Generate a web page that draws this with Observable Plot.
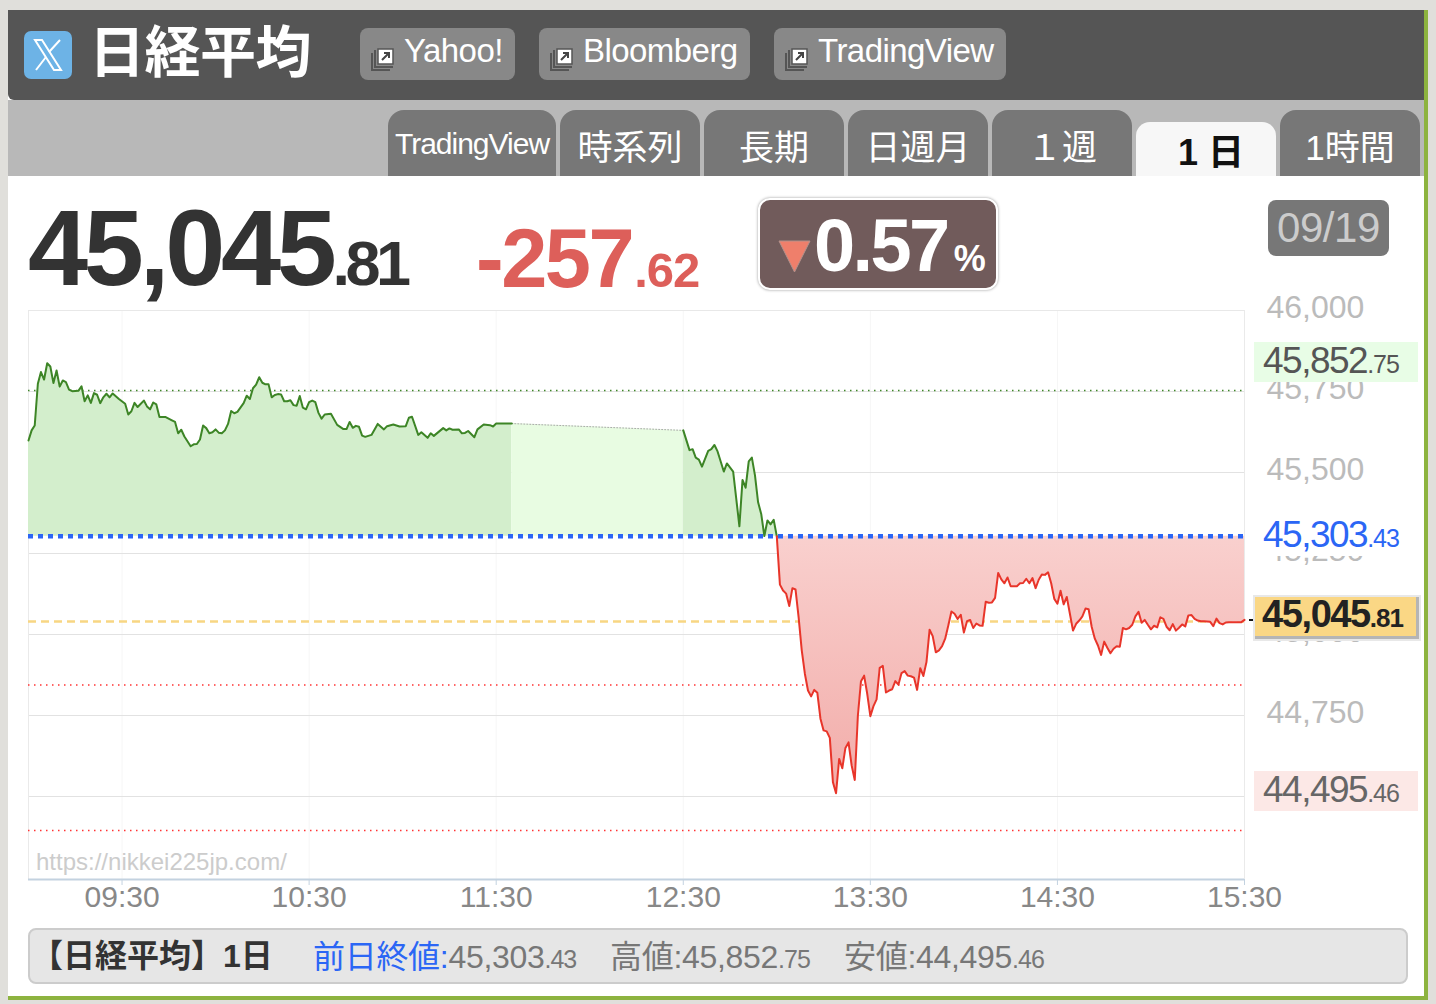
<!DOCTYPE html>
<html lang="ja">
<head>
<meta charset="utf-8">
<title>日経平均 1日</title>
<script src="https://cdn.jsdelivr.net/npm/d3@7"></script>
<script src="https://cdn.jsdelivr.net/npm/@observablehq/plot@0.6"></script>
<style>
html,body{margin:0;padding:0;width:1436px;height:1004px;overflow:hidden;background:#e0dfdb;font-family:"Liberation Sans","Noto Sans CJK JP",sans-serif;}
.a{position:absolute;white-space:nowrap;}
.c{display:flex;align-items:center;justify-content:center;}
.btn{background:#888;border-radius:8px;top:28px;height:52px;color:#fff;font-size:33px;letter-spacing:-.55px;}
.btn span{position:absolute;top:3px;line-height:40px;}
.btn svg{position:absolute;left:10px;top:18px;}
.tab{background:#777;border-radius:16px 16px 0 0;top:110px;height:66px;width:140px;color:#fff;font-size:35px;padding-top:2px;box-sizing:border-box;}
.lab{left:1254px;width:164px;height:40px;line-height:38px;font-size:37px;letter-spacing:-1.5px;}
.lab span{position:absolute;left:9px;}
small{font-size:25px;letter-spacing:-1px;}
#chart{position:absolute;left:0;top:280px;}
</style>
</head>
<body>
<div class="a" style="left:8px;top:10px;width:1416px;height:986px;background:#fff;"></div>
<div class="a" style="left:1424px;top:10px;width:4px;height:990px;background:#8db33f;"></div>
<div class="a" style="left:8px;top:996px;width:1420px;height:4px;background:#8db33f;"></div>
<div class="a" style="left:8px;top:10px;width:1416px;height:90px;background:#555;border-radius:0 0 0 6px;"></div>
<div class="a" style="left:8px;top:100px;width:1416px;height:76px;background:#b8b8b8;"></div>

<div class="a c" style="left:24px;top:31px;width:48px;height:48px;background:#6db3e6;border-radius:7px;">
<svg width="30" height="32" viewBox="0 0 30 32"><path d="M2 1 L9 1 L28 31 L21 31 Z" fill="none" stroke="#fff" stroke-width="2"/><path d="M27 1 L16 13 M13 18 L3 31" stroke="#fff" stroke-width="2"/></svg></div>
<div class="a" style="left:89px;top:10px;height:76px;line-height:76px;font-size:56px;font-weight:700;color:#fff;font-family:'Noto Sans CJK JP';letter-spacing:-.5px;">日経平均</div>

<div class="a btn" style="left:360px;width:155px;"><svg width="26" height="26" viewBox="0 0 26 26"><path d="M2 7V24H20" fill="none" stroke="#555" stroke-width="2"/><path d="M5 4V21H23" fill="none" stroke="#555" stroke-width="2"/><rect x="8" y="3" width="15" height="15" fill="#fff" stroke="#555" stroke-width="1.5"/><path d="M12 14L19 7M14 7H19V12" fill="none" stroke="#444" stroke-width="2"/></svg><span style="left:44px;">Yahoo!</span></div>
<div class="a btn" style="left:539px;width:211px;"><svg width="26" height="26" viewBox="0 0 26 26"><path d="M2 7V24H20" fill="none" stroke="#555" stroke-width="2"/><path d="M5 4V21H23" fill="none" stroke="#555" stroke-width="2"/><rect x="8" y="3" width="15" height="15" fill="#fff" stroke="#555" stroke-width="1.5"/><path d="M12 14L19 7M14 7H19V12" fill="none" stroke="#444" stroke-width="2"/></svg><span style="left:44px;">Bloomberg</span></div>
<div class="a btn" style="left:774px;width:232px;"><svg width="26" height="26" viewBox="0 0 26 26"><path d="M2 7V24H20" fill="none" stroke="#555" stroke-width="2"/><path d="M5 4V21H23" fill="none" stroke="#555" stroke-width="2"/><rect x="8" y="3" width="15" height="15" fill="#fff" stroke="#555" stroke-width="1.5"/><path d="M12 14L19 7M14 7H19V12" fill="none" stroke="#444" stroke-width="2"/></svg><span style="left:44px;">TradingView</span></div>

<div class="a tab c" style="left:388px;width:168px;font-size:30px;letter-spacing:-1px;">TradingView</div>
<div class="a tab c" style="left:560px;">時系列</div>
<div class="a tab c" style="left:704px;">長期</div>
<div class="a tab c" style="left:848px;">日週月</div>
<div class="a tab c" style="left:992px;">１週</div>
<div class="a tab c" style="left:1136px;top:122px;height:54px;background:#f7f7f7;color:#111;font-weight:700;padding:0 0 0 10px;border-radius:14px 14px 0 0;font-size:36px;">1 日</div>
<div class="a tab c" style="left:1280px;">1時間</div>

<div class="a" style="left:28px;top:188px;height:120px;line-height:120px;font-size:108px;font-weight:700;color:#333;letter-spacing:-4.3px;">45,045<span style="font-size:63px;letter-spacing:-4.5px;">.81</span></div>
<div class="a" style="left:476px;top:204px;height:110px;line-height:110px;font-size:83px;font-weight:700;color:#dd5f5a;letter-spacing:-2.5px;">-257<span style="font-size:49px;letter-spacing:-1px;margin-left:2px;">.62</span></div>
<div class="a" style="left:758px;top:198px;width:240px;height:92px;box-sizing:border-box;background:#715b5b;border:2px solid #fff;border-radius:12px;box-shadow:0 0 3px #999;"></div>
<svg class="a" style="left:778px;top:240px;" width="33" height="33"><path d="M1 1H32L16.5 32Z" fill="#ef7f6b" stroke="#b3928c"/></svg>
<div class="a" style="left:814px;top:200px;height:92px;line-height:92px;font-size:74px;font-weight:700;color:#fff;letter-spacing:-2.6px;">0.57<span style="font-size:36px;letter-spacing:0;margin-left:6px;">%</span></div>
<div class="a c" style="left:1268px;top:200px;width:121px;height:56px;background:#777;border-radius:8px;color:#ccc;font-size:42px;letter-spacing:-.4px;">09/19</div>

<div id="chart"></div>

<div class="a" style="left:36px;top:848px;height:28px;line-height:28px;font-size:24px;color:#ccc;">https://nikkei225jp.com/</div>

<div class="a lab" style="top:342px;background:#e8fde6;color:#555;"><span>45,852<small>.75</small></span></div>
<div class="a lab" style="top:516px;background:#fff;color:#2b66f5;"><span>45,303<small>.43</small></span></div>
<div class="a lab" style="top:771px;background:#fce8e6;color:#666;"><span>44,495<small>.46</small></span></div>
<div class="a" style="left:1249px;top:619px;width:10px;height:2px;background:#111;"></div>
<div class="a" style="left:1253px;top:595px;width:168px;height:46px;box-sizing:border-box;background:#fad785;border:2px solid #e8e8e8;box-shadow:inset -3px -3px 0 #b5b5b5;"></div>
<div class="a" style="left:1262px;top:591px;height:46px;line-height:46px;font-size:38px;font-weight:700;color:#222;letter-spacing:-1.4px;">45,045<small style="font-size:26px;">.81</small></div>

<div class="a" style="left:28px;top:928px;width:1380px;height:56px;box-sizing:border-box;background:#e6e6e6;border:2px solid #ccc;border-radius:8px;"></div>
<div class="a" style="left:41px;top:928px;height:56px;line-height:56px;font-size:32px;font-weight:700;color:#333;"><span style="margin-left:-10px;">【日経平均】</span>1日</div>
<div class="a" style="left:313px;top:929px;height:56px;line-height:56px;font-size:32px;color:#777;letter-spacing:-.3px;"><span style="color:#2b66f5;">前日終値:</span>45,303<small>.43</small></div>
<div class="a" style="left:610px;top:929px;height:56px;line-height:56px;font-size:32px;color:#777;letter-spacing:-.3px;">高値:45,852<small>.75</small></div>
<div class="a" style="left:844px;top:929px;height:56px;line-height:56px;font-size:32px;color:#777;letter-spacing:-.3px;">安値:44,495<small>.46</small></div>

<script>
// Minutes after 09:00 and index price
const morningMinutes = [0,1,2,3,4,5,6,7,8,9,10,11,12,13,14,16,17,18,19,20,21,22,23,24,25,26,27,29,31,32,33,34,35,37,38,39,40,41,42,44,46,47,48,49,50,52,53,54,55,56,57,58,59,60,61,62,63,64,65,66,67,69,70,71,72,73,74,75,76,77,78,79,80,81,82,83,84,85,86,87,88,89,90,91,92,93,94,95,97,99,101,102,103,104,105,106,107,108,110,112,114,115,117,119,121,122,123,125,126,128,129,130,133,134,135,136,138,139,140,141,143,144,146,148,149,150,155];
const morningPrices = [45599,45630,45645,45774,45810,45787,45837,45827,45776,45815,45765,45784,45779,45756,45751,45752,45766,45720,45738,45715,45745,45740,45714,45732,45743,45732,45744,45727,45712,45679,45689,45715,45702,45722,45704,45695,45716,45710,45671,45671,45661,45656,45621,45632,45611,45581,45587,45588,45602,45645,45637,45621,45624,45633,45623,45621,45630,45650,45690,45683,45687,45714,45737,45727,45760,45771,45794,45777,45772,45772,45732,45739,45742,45741,45720,45720,45723,45708,45706,45736,45700,45695,45717,45722,45717,45684,45666,45679,45681,45647,45634,45634,45656,45638,45644,45641,45614,45610,45616,45650,45633,45643,45648,45642,45643,45669,45672,45616,45624,45607,45621,45613,45637,45630,45636,45632,45633,45621,45622,45628,45609,45633,45648,45646,45642,45651,45651];
const afternoonMinutes = [210,212,213,214,215,216,218,219,220,221,223,224,226,228,229,230,231,232,233,234,235,236,237,238,239,240];
const afternoonPrices = [45630,45569,45572,45546,45540,45518,45567,45572,45585,45565,45503,45528,45503,45334,45477,45453,45534,45546,45491,45408,45372,45304,45352,45340,45354,45303];
const closeMinutes = d3.range(240, 391);
const closePrices = [45303,45154,45136,45126,45088,45143,45139,45053,44951,44879,44827,44809,44829,44820,44740,44704,44701,44681,44544,44510,44616,44587,44650,44667,44596,44551,44750,44856,44873,44817,44748,44779,44800,44897,44903,44821,44827,44831,44856,44845,44881,44887,44873,44871,44867,44829,44896,44872,44915,45015,44995,44945,44951,44964,44987,45028,45071,45064,45048,45061,45006,45041,45045,45020,45034,45028,45027,45101,45098,45099,45113,45190,45170,45158,45176,45149,45149,45149,45158,45159,45172,45158,45174,45143,45169,45185,45184,45192,45158,45110,45095,45135,45093,45116,45064,45012,45033,45043,45056,45080,45078,45023,44987,44966,44937,44978,44959,44942,44956,44964,44962,45020,45016,45020,45030,45056,45070,45036,45045,45030,45016,45027,45022,45053,45048,45024,45013,45032,45012,45021,45031,45025,45059,45060,45048,45043,45041,45041,45040,45039,45026,45049,45035,45031,45037,45038,45038,45038,45038,45038,45045];
const prevClose = 45303.43;
const currentLine = 45040;
const upperBand = 45753;
const lowerBands = [44844, 44395];
const yTicks = [46000,45750,45500,45250,45000,44750,44500];
const xTicks = [30,90,150,210,270,330,390];
const xTickLabels = ["09:30","10:30","11:30","12:30","13:30","14:30","15:30"];
const lunchMinutes = [155,210];
const lunchPrices = [45651,45630];

const zip = (ms, ps) => ms.map((m, i) => ({m, p: ps[i]}));
const morning = zip(morningMinutes, morningPrices);
const afternoon = zip(afternoonMinutes, afternoonPrices);
const close = zip(closeMinutes, closePrices);
const lunch = zip(lunchMinutes, lunchPrices);
const GREEN = "#3d8526", RED = "#e8352a", GREENFILL = "#d3eecc";

const defs = () => {
  const d = d3.create("svg:defs");
  const g = d.append("linearGradient").attr("id","redGrad").attr("x1",0).attr("x2",0).attr("y1",0).attr("y2",1);
  g.append("stop").attr("offset","0%").attr("stop-color","#f9d0ce");
  g.append("stop").attr("offset","100%").attr("stop-color","#f2aca9");
  return d.node();
};
const base = () => prevClose;

const chart = Plot.plot({
  width: 1436, height: 640,
  marginLeft: 28, marginRight: 192, marginTop: 30, marginBottom: 41,
  style: {background: "transparent", fontFamily: "'Liberation Sans',sans-serif"},
  x: {domain: [0, 390], label: null},
  y: {domain: [44243.8, 46000], label: null},
  marks: [
    defs,
    Plot.ruleX(xTicks, {stroke: "#f6f6f6"}),
    Plot.ruleY(yTicks, {stroke: "#e2e2e2"}),
    Plot.ruleX([0, 390], {stroke: "#eaeaea"}),
    Plot.ruleY(lowerBands, {stroke: "#f33", strokeWidth: 1.5, strokeDasharray: "1.5,4.5"}),
    Plot.ruleY([upperBand], {stroke: GREEN, strokeWidth: 1.5, strokeDasharray: "1.5,4.5"}),
    Plot.ruleY([currentLine], {stroke: "#f8d683", strokeWidth: 2.5, strokeDasharray: "8,5"}),
    Plot.areaY(morning, {x: "m", y1: base, y2: "p", fill: GREENFILL}),
    Plot.areaY(lunch, {x: "m", y1: base, y2: "p", fill: "#e8fce2"}),
    Plot.areaY(afternoon, {x: "m", y1: base, y2: "p", fill: GREENFILL}),
    Plot.areaY(close, {x: "m", y1: base, y2: "p", fill: "url(#redGrad)"}),
    Plot.line(lunch, {x: "m", y: "p", stroke: "#aaa", strokeWidth: 1, strokeDasharray: "1,2"}),
    Plot.line(morning, {x: "m", y: "p", stroke: GREEN, strokeWidth: 2}),
    Plot.line(afternoon, {x: "m", y: "p", stroke: GREEN, strokeWidth: 2}),
    Plot.line(close, {x: "m", y: "p", stroke: RED, strokeWidth: 2}),
    Plot.ruleY([prevClose], {stroke: "#2b66f5", strokeWidth: 4.5, strokeDasharray: "5,5"}),
    Plot.ruleY([46000], {stroke: "#e8e8e8"}),
    Plot.ruleY([44243.8], {stroke: "#c3d2e0", strokeWidth: 2}),
    Plot.axisY({anchor: "right", ticks: yTicks, tickSize: 0, tickPadding: 22, tickFormat: d3.format(","), fontSize: 32, fill: "#bbb", dy: -3, label: null}),
    Plot.axisX({ticks: xTicks, tickSize: 6, tickPadding: 0, tickFormat: m => xTickLabels[xTicks.indexOf(m)], fontSize: 30, stroke: "#c3d2e0", fill: "#888", label: null})
  ]
});
document.getElementById("chart").appendChild(chart);
</script>
</body>
</html>
